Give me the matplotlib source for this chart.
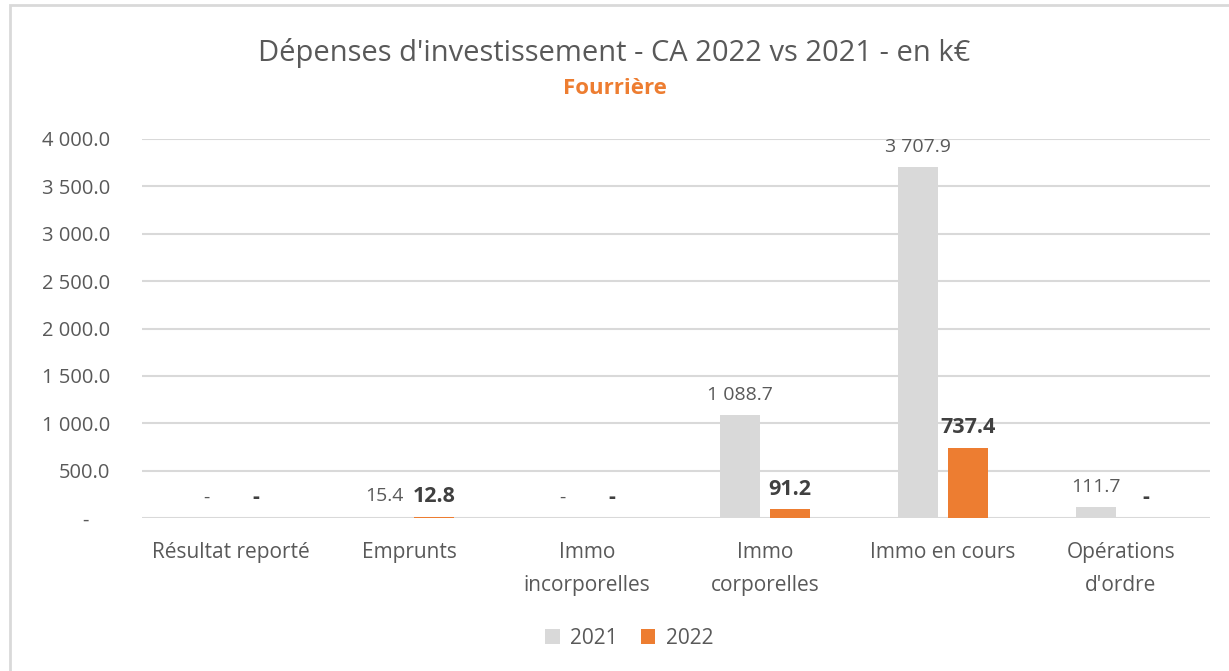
import numpy as np
import matplotlib.pyplot as plt
from matplotlib.patches import Rectangle

# Donnees du graphique
categories = ["Résultat reporté", "Emprunts", "Immo\nincorporelles",
              "Immo\ncorporelles", "Immo en cours", "Opérations\nd'ordre"]
val_2021 = [0.0, 15.4, 0.0, 1088.7, 3707.9, 111.7]
val_2022 = [0.0, 12.8, 0.0, 91.2, 737.4, 0.0]
y_ticks = [0, 500, 1000, 1500, 2000, 2500, 3000, 3500, 4000]

gris = "#d9d9d9"
orange = "#ed7d31"
texte = "#595959"

plt.rcParams["font.family"] = ["Open Sans", "DejaVu Sans"]


def fmt(v):
    if v == 0:
        return "-"
    s = f"{v:,.1f}".replace(",", " ")
    return s


fig = plt.figure(figsize=(12.29, 6.71), dpi=100)
ax = fig.add_axes([142 / 1229, 1 - 518 / 671, (1210 - 142) / 1229, (518 - 139) / 671])

x = np.arange(len(categories))
w = 0.225
off = 0.14
b1 = ax.bar(x - off, val_2021, w, color=gris, zorder=2)
b2 = ax.bar(x + off, val_2022, w, color=orange, zorder=2)

for xi, v in zip(x, val_2021):
    ax.annotate(fmt(v), (xi - off, v), xytext=(0, 8), textcoords="offset points",
                ha="center", va="bottom", fontsize=14, color=texte)
for xi, v in zip(x, val_2022):
    ax.annotate(fmt(v), (xi + off, v), xytext=(0, 7), textcoords="offset points",
                ha="center", va="bottom", fontsize=15.5, color="#404040", fontweight="bold")

ax.set_xlim(-0.5, len(categories) - 0.5)
ax.set_ylim(0, 4000)
ax.set_yticks(y_ticks)
ax.set_yticklabels([fmt(t) + ("    " if t == 0 else "") for t in y_ticks],
                   fontsize=14.5, color=texte)
ax.set_xticks(x)
ax.set_xticklabels(categories, fontsize=15, color=texte, linespacing=1.75, va="top")
ax.tick_params(axis="both", length=0)
ax.tick_params(axis="y", pad=23)
ax.tick_params(axis="x", pad=17)
ax.grid(axis="y", color="#d9d9d9", linewidth=1.5, zorder=0)
for s in ax.spines.values():
    s.set_visible(False)

fig.text(0.5, 1 - 53 / 671, "Dépenses d'investissement - CA 2022 vs 2021 - en k€",
         ha="center", va="center", fontsize=21, color=texte)
fig.text(0.5, 1 - 88 / 671, "Fourrière", ha="center", va="center",
         fontsize=16, color=orange, fontweight="bold")

fig.legend([b1, b2], ["2021", "2022"], loc="center", bbox_to_anchor=(0.512, 1 - 638 / 671),
           ncol=2, frameon=False, fontsize=15, labelcolor=texte,
           handlelength=0.7, handleheight=0.7, handletextpad=0.5, columnspacing=1.1)

# cadre
fig.patches.append(Rectangle((10 / 1229, -0.05), 1.1, 1 - 5 / 671 + 0.05,
                             transform=fig.transFigure, fill=False,
                             edgecolor="#d9d9d9", linewidth=2))

fig.savefig("out.png", dpi=100)
